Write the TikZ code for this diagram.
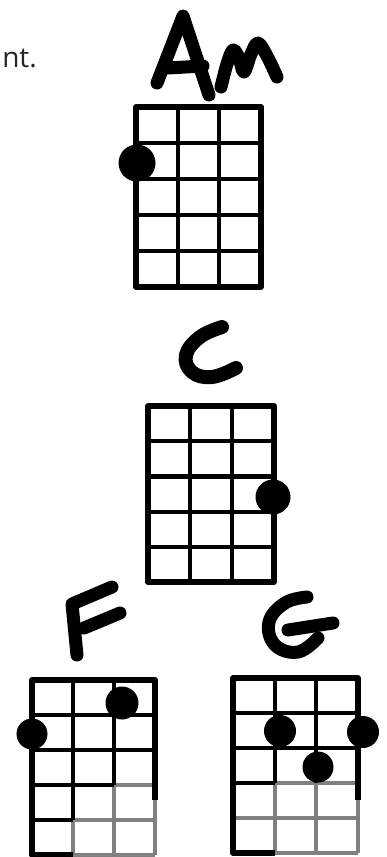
\documentclass[tikz,border=0pt]{standalone}
\usepackage{fontspec}
\newfontfamily\labelfont{Open Sans}
\newcommand\ukegrid[4]{%
  \foreach \k in {1,...,4}
    \draw[gridline] ({#1},{#2+\k*(#4-#2)/5}) -- ({#3},{#2+\k*(#4-#2)/5});
  \foreach \k in {1,2}
    \draw[gridline] ({#1+\k*(#3-#1)/3},{#2}) -- ({#1+\k*(#3-#1)/3},{#4});
  \draw[frame] (#1,#2) rectangle (#3,#4);
}
\begin{document}
\begin{tikzpicture}[x=1pt,y=-1pt,
  gridline/.style={line width=4.2pt, black},
  frame/.style={line width=5.2pt, line join=round, black},
  fade/.style={line width=3.6pt, black!50},
  marker/.style={line width=13pt, line cap=round, line join=round, black},
]
\useasboundingbox (0,0) rectangle (387,857);

% cut-off word
\node[anchor=base east, font=\labelfont\fontsize{28}{28}\selectfont, text=black!85, inner sep=0pt] (cutword) at (37,67) {nt.};

% ---------- Am ----------
\draw[marker] (157,83) -- (183,16) -- (209,95);
\draw[marker] (168,68) -- (203,66);
\draw[marker] plot[smooth, tension=0.6] coordinates {(221,87) (227,64) (233,50) (239,58) (244,72) (251,54) (258,43) (267,56) (277,77)};
\ukegrid{136}{107}{261}{287}
\node[circle, fill=black, minimum size=37pt, inner sep=0pt] (amdot) at (137,163) {};

% ---------- C ----------
\draw[marker, line width=14pt] plot[smooth, tension=0.7] coordinates {(222,327) (200,337) (186,355) (192,372) (212,377) (236,368)};
\ukegrid{148}{406}{274}{582}
\node[circle, fill=black, minimum size=35pt, inner sep=0pt] (cdot) at (273,497) {};

% ---------- F ----------
\draw[marker] (112,587) -- (72,604) -- (77,655);
\draw[marker] (84,628) -- (120,613);
% faded lower parts
\draw[fade] (73,820) -- (73,855);
\draw[fade] (114,785) -- (114,855);
\draw[fade] (155,800) -- (155,855);
\draw[fade] (73,820) -- (155,820);
\draw[fade] (73,855) -- (155,855);
\draw[fade] (114,785) -- (155,785);
% black parts
\draw[gridline] (32,715) -- (155,715);
\draw[gridline] (32,750) -- (155,750);
\draw[gridline] (32,785) -- (114,785);
\draw[gridline] (32,820) -- (73,820);
\draw[gridline] (73,680) -- (73,820);
\draw[gridline] (114,680) -- (114,785);
\draw[frame] (155,800) -- (155,680) -- (32,680) -- (32,855) -- (73,855);
\node[circle, fill=black, minimum size=33pt, inner sep=0pt] (fdota) at (122,703) {};
\node[circle, fill=black, minimum size=31pt, inner sep=0pt] (fdotb) at (32,734) {};

% ---------- G ----------
\draw[marker] plot[smooth, tension=0.7] coordinates {(307,597) (285,603) (269,622) (275,645) (298,652) (318,638)};
\draw[marker] (288,630) -- (333,623);
\draw[fade] (275,783) -- (275,853);
\draw[fade] (316,783) -- (316,853);
\draw[fade] (358,800) -- (358,853);
\draw[fade] (233,818) -- (358,818);
\draw[fade] (275,853) -- (358,853);
\draw[fade] (275,783) -- (358,783);
\draw[gridline] (233,713) -- (358,713);
\draw[gridline] (233,748) -- (358,748);
\draw[gridline] (233,783) -- (275,783);
\draw[gridline] (275,678) -- (275,783);
\draw[gridline] (316,678) -- (316,783);
\draw[frame] (358,800) -- (358,678) -- (233,678) -- (233,853) -- (275,853);
\node[circle, fill=black, minimum size=32pt, inner sep=0pt] (gdota) at (280,731) {};
\node[circle, fill=black, minimum size=32pt, inner sep=0pt] (gdotb) at (363,732) {};
\node[circle, fill=black, minimum size=31pt, inner sep=0pt] (gdotc) at (318,767) {};
\end{tikzpicture}
\end{document}
